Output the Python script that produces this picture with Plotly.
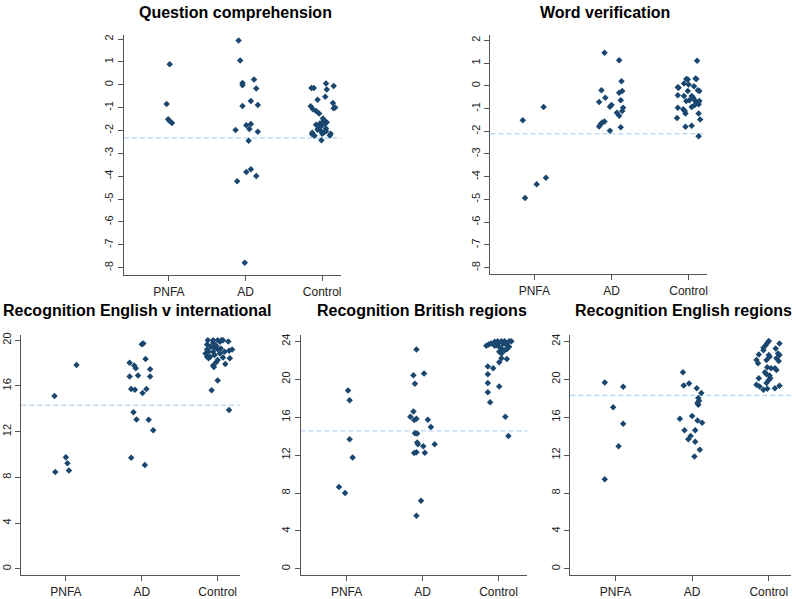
import plotly.graph_objects as go

W, H = 796, 599
groups = ["PNFA", "AD", "Control"]

# ---------------- Question comprehension ----------------
qc_pnfa_y = [0.9, -0.84, -1.51, -1.58, -1.67]
qc_pnfa_dx = [0.01, -0.03, -0.01, 0.01, 0.04]
qc_ad_y = [1.93, 1.06, 0.08, -0.02, 0.23, -0.16, -0.71, -0.93, -0.89, -1.77,
           -1.72, -1.94, -1.98, -2.06, -2.45, -3.69, -3.82, -3.99, -4.22, -7.78]
qc_ad_dx = [-0.09, -0.07, -0.04, -0.04, 0.11, 0.14, 0.07, -0.04, 0.16, 0.01,
            0.07, 0.05, -0.13, 0.16, 0.04, 0.07, 0.01, 0.14, -0.11, -0.01]
qc_ctl_y = [-0.14, -0.14, 0.06, -0.05, -0.21, -0.66, -0.53, -0.94, -1.07, -1.15,
            -1.26, -0.80, -1.03, -1.0, -1.48, -1.57, -1.65, -1.70, -1.75, -1.83,
            -1.80, -1.71, -1.64, -1.97, -2.01, -2.09, -2.03, -2.14, -2.16, -2.23,
            -2.10, -2.22, -2.14, -2.43, -1.91, -1.91]
qc_ctl_dx = [-0.14, -0.11, 0.05, 0.15, 0.06, -0.06, 0.04, -0.15, -0.12, -0.08,
             -0.04, 0.14, 0.15, 0.17, 0.01, 0.03, 0.0, -0.03, -0.08, -0.05,
             -0.01, 0.04, 0.06, -0.06, -0.02, 0.02, 0.05, 0.0, -0.13, -0.10,
             -0.13, 0.10, 0.11, -0.01, -0.05, 0.05]
qc_cut = -2.33

# ---------------- Word verification ----------------
wv_pnfa_y = [-1.51, -0.93, -4.04, -4.33, -4.94]
wv_pnfa_dx = [-0.15, 0.12, 0.15, 0.03, -0.12]
wv_ad_y = [1.45, 1.13, 0.20, -0.20, -0.31, -0.23, -0.53, -0.71, -0.63, -0.84,
           -0.92, -0.96, -1.11, -1.18, -1.32, -1.57, -1.61, -1.68, -1.79, -1.98, -1.82]
wv_ad_dx = [-0.09, 0.10, 0.13, -0.13, 0.10, 0.14, -0.08, -0.16, 0.12, 0.0,
            -0.02, 0.15, 0.14, 0.07, 0.10, -0.09, -0.12, -0.14, -0.16, -0.02, 0.12]
wv_ctl_y = [1.10, 0.30, 0.28, 0.32, 0.30, 0.10, -0.09, -0.06, 0.06, -0.02,
            -0.23, -0.20, -0.23, -0.42, -0.45, -0.45, -0.53, -0.67, -0.64, -0.71,
            -0.81, -0.84, -0.93, -0.96, -1.03, -1.11, -1.22, -1.22, -1.42, -1.48,
            -1.80, -1.76, -2.22, -0.64, -0.67]
wv_ctl_dx = [0.11, -0.03, -0.01, 0.09, 0.10, -0.06, -0.13, -0.14, 0.0, 0.07,
             -0.01, 0.12, 0.14, -0.14, -0.06, 0.04, 0.06, -0.03, 0.08, 0.10,
             0.13, 0.08, 0.04, -0.14, -0.07, -0.05, -0.04, 0.13, -0.15, 0.15,
             -0.04, 0.04, 0.13, 0.01, 0.14]
wv_cut = -2.11

# ---------------- Recognition English v international ----------------
ri_pnfa_y = [15.13, 17.84, 9.76, 9.24, 8.61, 8.48]
ri_pnfa_dx = [-0.15, 0.14, 0.0, 0.02, 0.04, -0.14]
ri_ad_y = [19.65, 19.71, 18.04, 17.78, 17.55, 18.36, 17.46, 16.83, 16.92, 16.83,
           15.73, 15.67, 15.73, 15.39, 13.71, 13.07, 13.05, 12.12, 9.73, 9.09]
ri_ad_dx = [0.0, 0.02, -0.16, -0.10, -0.08, 0.05, 0.11, -0.16, -0.05, 0.11,
            -0.14, -0.09, 0.06, 0.01, -0.11, -0.07, 0.09, 0.15, -0.14, 0.04]
ri_ctl_y = [20.0, 20.0, 20.0, 20.0, 20.0, 19.9, 19.63, 19.77, 19.51, 19.28,
            19.08, 19.19, 19.19, 18.99, 18.99, 19.22, 18.56, 18.42, 18.56, 18.7,
            18.5, 18.42, 17.78, 17.66, 18.07, 18.27, 17.92, 16.48, 15.62, 13.89,
            19.43, 19.34, 19.86, 18.99, 18.85, 18.85]
ri_ctl_dx = [-0.13, -0.06, 0.0, 0.05, 0.07, 0.14, -0.14, -0.06, -0.02, 0.04,
             0.15, 0.19, -0.14, -0.12, -0.06, 0.0, -0.14, -0.12, -0.10, -0.04,
             0.07, 0.16, -0.06, -0.05, -0.02, 0.0, 0.10, 0.0, -0.08, 0.15,
             -0.09, -0.04, 0.03, 0.09, -0.16, 0.03]
ri_cut = 14.32

# ---------------- Recognition British regions ----------------
rb_pnfa_y = [18.82, 17.78, 13.67, 11.76, 8.63, 8.0]
rb_pnfa_dx = [0.02, 0.04, 0.04, 0.08, -0.10, -0.02]
rb_ad_y = [23.13, 20.42, 20.6, 19.51, 16.59, 16.04, 15.69, 15.83, 15.73, 14.96,
           14.27, 14.3, 13.33, 13.15, 12.94, 13.15, 12.21, 12.31, 12.25, 7.2, 5.6]
rb_ad_dx = [-0.08, -0.12, 0.02, -0.10, -0.12, -0.16, -0.11, -0.08, 0.07, 0.11,
            -0.07, -0.10, -0.07, -0.06, 0.01, 0.16, -0.11, -0.08, 0.03, -0.02, -0.08]
rb_ctl_y = [23.52, 23.66, 23.76, 23.94, 24.0, 24.0, 24.0, 24.0, 24.0, 23.58,
            23.41, 23.24, 23.06, 22.89, 22.72, 23.17, 23.41, 22.2, 21.78, 22.12,
            21.33, 21.15, 20.53, 19.59, 19.24, 18.62, 17.57, 16.04, 14.02,
            23.76, 23.76, 23.66, 23.52]
rb_ctl_dx = [-0.16, -0.13, -0.10, -0.05, -0.01, 0.04, 0.08, 0.14, 0.17, -0.02,
             0.01, 0.04, 0.08, 0.01, 0.04, 0.11, 0.14, 0.04, 0.01, 0.11,
             -0.14, -0.07, -0.14, -0.14, 0.01, -0.14, -0.11, 0.09, 0.13,
             -0.01, 0.06, 0.10, -0.05]
rb_cut = 14.55

# ---------------- Recognition English regions ----------------
re_pnfa_y = [19.66, 19.2, 17.05, 15.31, 12.94, 9.46]
re_pnfa_dx = [-0.14, 0.10, -0.03, 0.10, 0.04, -0.14]
re_ad_y = [20.73, 19.35, 19.55, 19.06, 18.54, 18.02, 17.74, 17.5, 17.32, 15.83,
           16.11, 15.65, 15.41, 14.61, 14.61, 14.02, 13.67, 13.4, 12.56, 11.86]
re_ad_dx = [-0.12, -0.11, -0.04, 0.06, 0.12, 0.08, 0.09, 0.07, 0.08, -0.16,
            0.0, 0.07, 0.13, -0.10, 0.04, -0.02, -0.05, 0.04, 0.10, 0.03]
re_ctl_y = [24.04, 23.83, 23.58, 23.76, 23.31, 23.06, 23.24, 22.72, 22.54, 22.2,
            22.61, 22.54, 22.37, 22.02, 21.67, 22.02, 21.91, 21.26, 21.15, 20.98,
            20.73, 20.53, 20.11, 20.39, 20.11, 19.41, 19.24, 19.59, 19.93, 18.89,
            18.99, 19.06, 19.31, 21.15]
re_ctl_dx = [0.0, -0.02, -0.04, 0.14, -0.07, -0.07, 0.09, 0.12, 0.14, 0.10,
             -0.13, 0.0, 0.01, -0.16, -0.14, -0.03, 0.13, -0.02, 0.08, 0.10,
             -0.05, -0.03, -0.13, 0.01, 0.02, -0.16, -0.12, -0.03, 0.0, -0.07,
             -0.02, 0.08, 0.14, 0.03]
re_cut = 18.3

titles = ["Question comprehension", "Word verification",
          "Recognition English v international", "Recognition British regions",
          "Recognition English regions"]

z_ticks = [2, 1, 0, -1, -2, -3, -4, -5, -6, -7, -8]
r20_ticks = [0, 4, 8, 12, 16, 20]
r24_ticks = [0, 4, 8, 12, 16, 20, 24]

panels = [
    dict(data=[(qc_pnfa_y, qc_pnfa_dx), (qc_ad_y, qc_ad_dx), (qc_ctl_y, qc_ctl_dx)],
         cut=qc_cut, ticks=z_ticks),
    dict(data=[(wv_pnfa_y, wv_pnfa_dx), (wv_ad_y, wv_ad_dx), (wv_ctl_y, wv_ctl_dx)],
         cut=wv_cut, ticks=z_ticks),
    dict(data=[(ri_pnfa_y, ri_pnfa_dx), (ri_ad_y, ri_ad_dx), (ri_ctl_y, ri_ctl_dx)],
         cut=ri_cut, ticks=r20_ticks),
    dict(data=[(rb_pnfa_y, rb_pnfa_dx), (rb_ad_y, rb_ad_dx), (rb_ctl_y, rb_ctl_dx)],
         cut=rb_cut, ticks=r24_ticks),
    dict(data=[(re_pnfa_y, re_pnfa_dx), (re_ad_y, re_ad_dx), (re_ctl_y, re_ctl_dx)],
         cut=re_cut, ticks=r24_ticks),
]

# layout geometry (pixels): left, right, top, bottom, x-range, y-range, title centre
geom = [
    dict(l=124, r=341, t=33, b=276, xr=[0.412, 3.24], yr=[-8.33, 2.19], tx=235.5, ty=11),
    dict(l=491, r=708, t=33, b=275, xr=[0.43, 3.24], yr=[-8.29, 2.25], tx=605.5, ty=11),
    dict(l=21, r=240, t=336, b=579, xr=[0.408, 3.29], yr=[-0.55, 20.49], tx=137, ty=312),
    dict(l=301, r=528, t=336, b=579, xr=[0.395, 3.38], yr=[-0.66, 24.70], tx=423, ty=312),
    dict(l=571, r=792, t=336, b=579, xr=[0.41, 3.29], yr=[-0.66, 24.70], tx=684, ty=312),
]

fig = go.Figure()
MARK = "#1a476f"
AXC = "#555555"
FONT = "Liberation Sans, Arial, sans-serif"
shapes = []
annotations = []

for i, (p, g) in enumerate(zip(panels, geom)):
    n = "" if i == 0 else str(i + 1)
    xa, ya = "x" + n, "y" + n
    for gi, (yv, dx) in enumerate(p["data"]):
        fig.add_trace(go.Scatter(
            x=[gi + 1 + d for d in dx], y=yv, mode="markers",
            marker=dict(symbol="diamond", size=5, color=MARK, line=dict(width=0)),
            xaxis=xa, yaxis=ya, showlegend=False, hoverinfo="skip"))
    fig.layout["xaxis" + n] = dict(
        domain=[g["l"] / W, g["r"] / W], range=g["xr"], anchor=ya,
        tickvals=[1, 2, 3], ticktext=groups, showgrid=False, zeroline=False,
        showline=True, linecolor=AXC, linewidth=1, ticks="outside", ticklen=5,
        tickcolor=AXC, tickfont=dict(family=FONT, size=12, color="#222"),
        fixedrange=True)
    fig.layout["yaxis" + n] = dict(
        domain=[1 - g["b"] / H, 1 - g["t"] / H], range=g["yr"], anchor=xa,
        tickvals=p["ticks"], ticktext=[str(t) for t in p["ticks"]],
        showgrid=False, zeroline=False, showline=True,
        linecolor=AXC, linewidth=1, ticks="outside", ticklen=5, tickcolor=AXC,
        tickangle=-90, tickfont=dict(family=FONT, size=11, color="#222"),
        fixedrange=True)
    shapes.append(dict(type="line", xref=xa + " domain", yref=ya, x0=0, x1=1,
                       y0=p["cut"], y1=p["cut"],
                       line=dict(color="#a3c9ef", width=1, dash="5px,3px"), layer="below"))
    annotations.append(dict(text="<b>" + titles[i] + "</b>", xref="paper", yref="paper",
                            x=g["tx"] / W, y=1 - g["ty"] / H, xanchor="center",
                            yanchor="middle", showarrow=False,
                            font=dict(family=FONT, size=16, color="#000")))

fig.update_layout(width=W, height=H, margin=dict(l=0, r=0, t=0, b=0),
                  paper_bgcolor="white", plot_bgcolor="white",
                  shapes=shapes, annotations=annotations, showlegend=False)

fig.write_html("out.html", config={"displayModeBar": False},
               post_script="document.body.style.margin='0';document.body.style.padding='0';")
